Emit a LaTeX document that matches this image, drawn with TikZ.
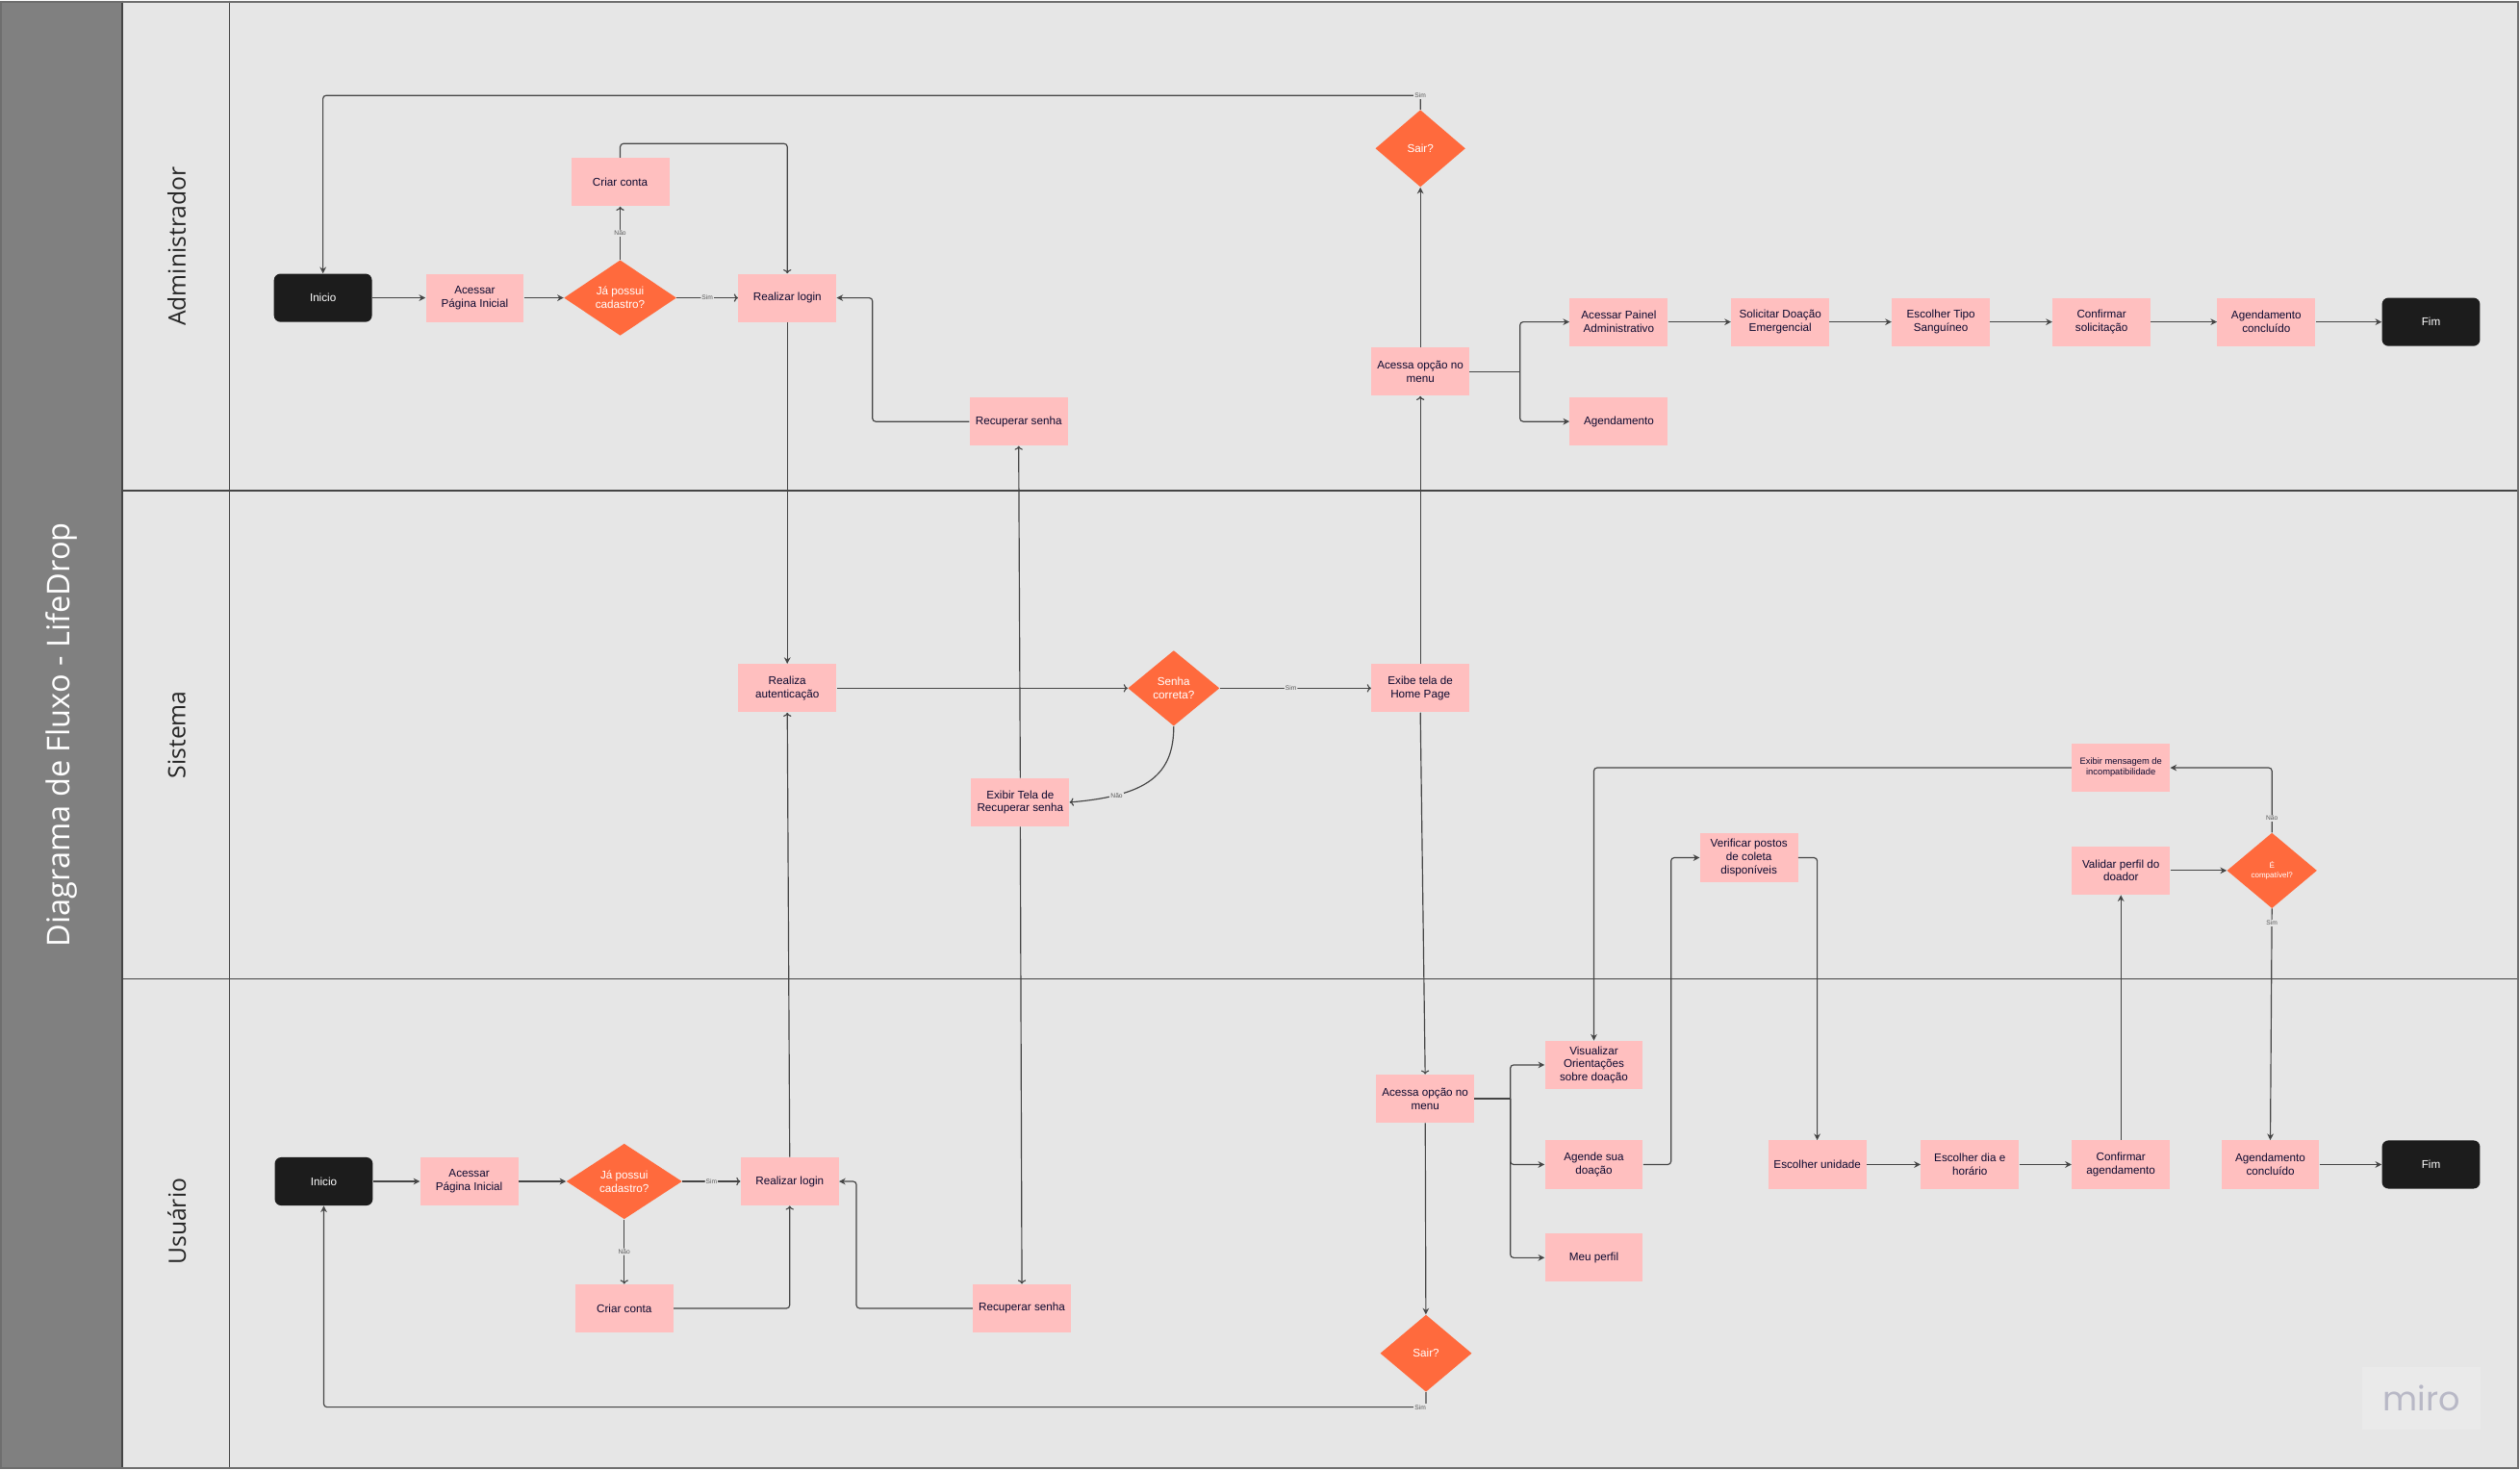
\documentclass[tikz,border=0pt]{standalone}
\usepackage{fontspec}
\setmainfont{Liberation Sans}
\newfontfamily\osans{Open Sans}
\newfontfamily\popf{Poppins}
\usetikzlibrary{shapes.geometric,arrows.meta}
\definecolor{bg}{HTML}{E6E6E6}
\definecolor{band}{HTML}{808080}
\definecolor{pinkbox}{HTML}{FFBFBF}
\definecolor{orng}{HTML}{FF6A3D}
\definecolor{blk}{HTML}{1C1C1C}
\definecolor{navy}{HTML}{0D0A30}
\definecolor{ln}{HTML}{454545}
\definecolor{frame}{HTML}{6E6E6E}
\definecolor{mirotxt}{HTML}{B8B8C6}
\definecolor{mirobg}{HTML}{EAEAEA}
\definecolor{lbltxt}{HTML}{5A5A5A}
\begin{document}
\begin{tikzpicture}[x=1pt,y=-1pt,
  box/.style={rectangle, fill=pinkbox, minimum width=61pt, minimum height=30pt, inner sep=0pt, align=center, text=navy, font=\fontsize{7}{8.2}\selectfont},
  term/.style={rectangle, rounded corners=4pt, fill=blk, minimum width=61pt, minimum height=30pt, inner sep=0pt, text=white, font=\fontsize{7}{8.2}\selectfont},
  dec/.style={diamond, aspect=1.5, fill=orng, inner sep=0pt, align=center, text=white, font=\fontsize{7}{8.2}\selectfont},
  con/.style={draw=ln, line width=0.7pt, rounded corners=2pt},
  fa/.style={con, -{Stealth[length=4pt,width=4pt]}},
  oa/.style={con, -{To[length=2.5pt,width=5pt]}},
  lbl/.style={font=\fontsize{4}{4.5}\selectfont, text=lbltxt, fill=bg, inner sep=0.6pt},
  lanelbl/.style={rotate=90, font=\osans\fontsize{14.8}{16}\selectfont, text=black!85},
]
% background and frame
\fill[bg] (0,0) rectangle (1568,914);
\fill[band] (0,0) rectangle (76,914);
\draw[ln, line width=0.8pt] (76,0) -- (76,914);
\draw[ln, line width=0.8pt] (143,0) -- (143,914);
\draw[ln, line width=0.8pt] (76,305) -- (1568,305);
\draw[ln, line width=0.8pt] (76,609) -- (1568,609);
\draw[frame, line width=1.4pt] (0.7,0.7) rectangle (1567.3,913.3);

% titles
\node[rotate=90, font=\osans\fontsize{19.5}{22}\selectfont, text=white] (title) at (38,457) {Diagrama de Fluxo - LifeDrop};
\node[lanelbl] (lA) at (110,153) {Administrador};
\node[lanelbl] (lS) at (110,457) {Sistema};
\node[lanelbl] (lU) at (110,760) {Usuário};

% miro logo
\node[fill=mirobg, minimum width=74pt, minimum height=39pt, inner sep=0pt, text=mirotxt, font=\popf\fontsize{21}{22}\selectfont] (miro) at (1507,870) {miro};

% ---------- Administrador ----------
\node[term] (aIni) at (201,185) {Inicio};
\node[box] (aAce) at (295.5,185) {Acessar\\Página Inicial};
\node[dec, minimum width=70pt, minimum height=47pt] (aCad) at (386,185) {Já possui\\cadastro?};
\node[box] (aCri) at (386,113) {Criar conta};
\node[box] (aLog) at (490,185) {Realizar login};
\node[box] (aRec) at (634,262) {Recuperar senha};
\node[dec, minimum width=56pt, minimum height=48pt] (aSair) at (884,92) {Sair?};
\node[box] (aMenu) at (884,231) {Acessa opção no\\menu};
\node[box] (aPai) at (1007.5,200) {Acessar Painel\\Administrativo};
\node[box] (aAgd) at (1007.5,262) {Agendamento};
\node[box] (aSol) at (1108,200) {Solicitar Doação\\Emergencial};
\node[box] (aTip) at (1208,200) {Escolher Tipo\\Sanguíneo};
\node[box] (aConf) at (1308,200) {Confirmar\\solicitação};
\node[box] (aConc) at (1410.5,200) {Agendamento\\concluído};
\node[term] (aFim) at (1513,200) {Fim};

% ---------- Sistema ----------
\node[box] (sAut) at (490,428) {Realiza\\autenticação};
\node[dec, minimum width=57pt, minimum height=47pt] (sSen) at (730.5,428) {Senha\\correta?};
\node[box] (sHome) at (884,428) {Exibe tela de\\Home Page};
\node[box] (sRec) at (635,499) {Exibir Tela de\\Recuperar senha};
\node[box, font=\fontsize{5.6}{6.6}\selectfont] (sMsg) at (1320,477.5) {Exibir mensagem de\\incompatibilidade};
\node[box] (sVal) at (1320,541.5) {Validar perfil do\\doador};
\node[dec, minimum width=56pt, minimum height=47pt, font=\fontsize{4.8}{5.6}\selectfont] (sComp) at (1414,541.5) {É\\compatível?};
\node[box] (sVer) at (1088.5,533.5) {Verificar postos\\de coleta\\disponíveis};

% ---------- Usuario ----------
\node[term] (uIni) at (201.5,735) {Inicio};
\node[box] (uAce) at (292,735) {Acessar\\Página Inicial};
\node[dec, minimum width=72pt, minimum height=47pt] (uCad) at (388.5,735) {Já possui\\cadastro?};
\node[box] (uLog) at (491.5,735) {Realizar login};
\node[box] (uCri) at (388.5,814) {Criar conta};
\node[box] (uRec) at (636,814) {Recuperar senha};
\node[box] (uMenu) at (887,683.5) {Acessa opção no\\menu};
\node[dec, minimum width=57pt, minimum height=48pt] (uSair) at (887.5,842) {Sair?};
\node[box] (uVis) at (992,662.5) {Visualizar\\Orientações\\sobre doação};
\node[box] (uAge) at (992,724.5) {Agende sua\\doação};
\node[box] (uPer) at (992,782.5) {Meu perfil};
\node[box] (uUni) at (1131,724.5) {Escolher unidade};
\node[box] (uDia) at (1226,724.5) {Escolher dia e\\horário};
\node[box] (uConf) at (1320,724.5) {Confirmar\\agendamento};
\node[box] (uConc) at (1413,724.5) {Agendamento\\concluído};
\node[term] (uFim) at (1513,724.5) {Fim};

% ---------- connectors: Administrador ----------
\draw[fa] (aSair.north) |- (201,59) -- (aIni.north);
\node[lbl] (lSimA) at (884,59) {Sim};
\draw[fa] (aIni) -- (aAce);
\draw[fa] (aAce) -- (aCad);
\draw[oa] (aCad) -- node[lbl] (lSimCadA) {Sim} (aLog);
\draw[oa] (aCad) -- node[lbl] (lNaoCadA) {Não} (aCri);
\draw[oa] (aCri.north) -- (386,89) -| (aLog.north);
\draw[fa] (aLog) -- (sAut);
\draw[fa] (aRec.west) -- (543,262) |- (aLog.east);
\draw[fa] (aMenu) -- (aSair);
\coordinate (aBr) at (946,231);
\draw[con] (aMenu.east) -- (aBr);
\draw[fa] (aBr) |- (aPai.west);
\draw[fa] (aBr) |- (aAgd.west);
\draw[fa] (aPai) -- (aSol);
\draw[fa] (aSol) -- (aTip);
\draw[fa] (aTip) -- (aConf);
\draw[fa] (aConf) -- (aConc);
\draw[fa] (aConc) -- (aFim);

% ---------- connectors: Sistema ----------
\draw[oa] (sAut) -- (sSen);
\draw[oa] (sSen) -- node[lbl, pos=0.47] (lSimSen) {Sim} (sHome);
\draw[oa] (sSen.south) .. controls (730.5,482) and (714,495) .. (sRec.east);
\node[lbl] (lNaoSen) at (695,495) {Não};
\draw[oa] (sRec.north) -- (aRec.south);
\draw[oa] (sRec.south) -- (uRec.north);
\draw[oa] (sHome.north) -- (aMenu.south);
\draw[oa] (sHome.south) -- (uMenu.north);
\draw[oa] (uLog.north) -- (sAut.south);
\draw[fa] (sVal) -- (sComp);
\draw[fa] (sComp.north) |- (sMsg.east);
\node[lbl] (lNaoComp) at (1414,509) {Não};
\draw[fa] (sMsg.west) -| (uVis.north);
\draw[fa] (sComp.south) -- (uConc.north);
\node[lbl] (lSimComp) at (1414,574) {Sim};
\draw[fa] (uAge.east) -- (1040,724.5) |- (sVer.west);
\draw[fa] (sVer.east) -| (uUni.north);

% ---------- connectors: Usuario ----------
\draw[fa] (uIni) -- (uAce);
\draw[fa] (uAce) -- (uCad);
\draw[oa] (uCad) -- node[lbl] (lSimCadU) {Sim} (uLog);
\draw[oa] (uCad) -- node[lbl] (lNaoCadU) {Não} (uCri);
\draw[oa] (uCri.east) -| (uLog.south);
\draw[fa] (uRec.west) -- (533,814) |- (uLog.east);
\coordinate (uBr) at (940,683.5);
\draw[con] (uMenu.east) -- (uBr);
\draw[fa] (uBr) |- (uVis.west);
\draw[fa] (uBr) |- (uAge.west);
\draw[fa] (uBr) |- (uPer.west);
\draw[fa] (uMenu) -- (uSair);
\draw[fa] (uSair.south) |- (201.5,875.5) -- (uIni.south);
\node[lbl] (lSimU) at (884,875.5) {Sim};
\draw[fa] (uUni) -- (uDia);
\draw[fa] (uDia) -- (uConf);
\draw[fa] (uConf.north) -- (sVal.south);
\draw[fa] (uConc) -- (uFim);
\end{tikzpicture}
\end{document}
